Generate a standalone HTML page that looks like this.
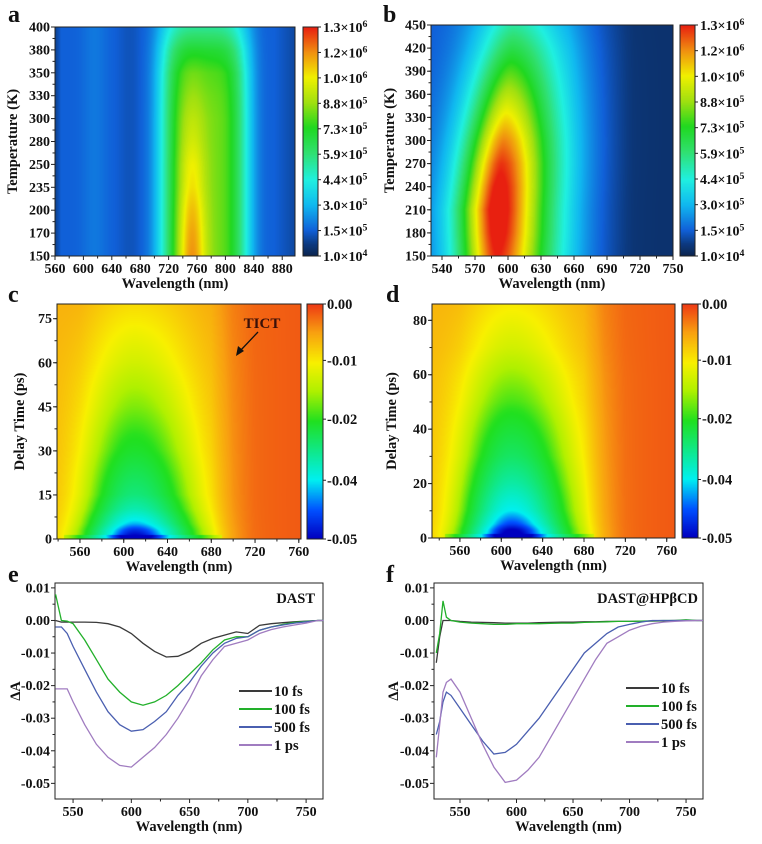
<!DOCTYPE html>
<html><head><meta charset="utf-8">
<style>
html,body{margin:0;padding:0;background:#fff;}
#wrap{position:relative;width:762px;height:844px;overflow:hidden;font-family:"Liberation Serif",serif;}
canvas{position:absolute;}
svg{position:absolute;left:0;top:0;}
</style></head>
<body>
<div id="wrap">
<canvas id="ca"></canvas>
<canvas id="cb"></canvas>
<canvas id="cc"></canvas>
<canvas id="cd"></canvas>
<canvas id="cba"></canvas>
<canvas id="cbb"></canvas>
<canvas id="cbc"></canvas>
<canvas id="cbd"></canvas>
<svg id="svg" width="762" height="844"></svg>
</div>
<script>
// ---------- DATA ----------
const aTempLabels = ["150","170","200","235","250","280","300","330","350","380","400"];
const aBroadAmp  = [0.52,0.52,0.52,0.52,0.52,0.52,0.52,0.51,0.49,0.42,0.30];
const aNarrowAmp = [0.26,0.24,0.21,0.17,0.15,0.11,0.08,0.05,0.03,0.01,0.00];
const aCbLabels = ["1.0×10^4","1.5×10^5","3.0×10^5","4.4×10^5","5.9×10^5","7.3×10^5","8.8×10^5","1.0×10^6","1.2×10^6","1.3×10^6"];
const bTemps   = [150,180,210,240,270,300,330,360,390,420,450];
const bAmp     = [0.90,0.94,0.96,0.93,0.88,0.80,0.70,0.60,0.50,0.40,0.30];
const bCenter  = [590,590,590,592,594,596,598,600,602,604,605];
const cDelays = [0,1,3,5,10,15,30,45,60,75,80];
const cAmp    = [0.044,0.045,0.042,0.037,0.029,0.024,0.017,0.012,0.008,0.005,0.004];
const dDelays = [0,1,3,5,10,20,30,40,50,60,70,86];
const dAmp    = [0.046,0.047,0.045,0.041,0.035,0.028,0.022,0.018,0.014,0.011,0.008,0.005];
const baseWl  = [530,560,600,680,700,720,770];
const baseVal = [-0.006,-0.005,-0.005,-0.005,-0.003,-0.002,-0.0015];
const cdCbLabels = ["0.00","-0.01","-0.02","-0.04","-0.05"];
const eWl = [535,540,545,550,560,570,580,590,600,610,620,630,640,650,660,670,680,690,700,710,720,730,740,750,760,765];
const e10  = [0,-0.0005,-0.0005,-0.0005,-0.0005,-0.0006,-0.001,-0.002,-0.004,-0.007,-0.0095,-0.0112,-0.011,-0.0095,-0.007,-0.0055,-0.0045,-0.0035,-0.004,-0.0015,-0.001,-0.0007,-0.0004,-0.0002,0,0];
const e100 = [0.008,0.0,-0.0002,-0.001,-0.006,-0.012,-0.018,-0.022,-0.025,-0.026,-0.025,-0.023,-0.020,-0.0165,-0.013,-0.009,-0.006,-0.005,-0.005,-0.003,-0.002,-0.0012,-0.0006,-0.0003,0,0];
const e500 = [-0.002,-0.002,-0.004,-0.008,-0.015,-0.022,-0.028,-0.032,-0.034,-0.0335,-0.031,-0.028,-0.023,-0.019,-0.014,-0.010,-0.007,-0.0055,-0.005,-0.003,-0.002,-0.0014,-0.0008,-0.0004,0,0];
const e1ps = [-0.021,-0.021,-0.021,-0.025,-0.032,-0.038,-0.042,-0.0445,-0.045,-0.042,-0.039,-0.035,-0.030,-0.024,-0.017,-0.012,-0.008,-0.007,-0.006,-0.004,-0.0028,-0.002,-0.0014,-0.0008,0,0];
const fWl = [529,532,535,538,542,550,560,570,580,590,600,610,620,630,640,650,660,670,680,690,700,710,720,730,740,750,760,765];
const f10  = [-0.013,-0.005,0,0,0,-0.0003,-0.0005,-0.0006,-0.0007,-0.0008,-0.0008,-0.0008,-0.0007,-0.0006,-0.0005,-0.0005,-0.0004,-0.0004,-0.0003,-0.0003,-0.0003,-0.0002,-0.0002,-0.0001,0,0,0,0];
const f100 = [-0.010,-0.004,0.006,0.001,0,-0.0005,-0.0008,-0.001,-0.0012,-0.0012,-0.001,-0.001,-0.001,-0.0009,-0.0008,-0.0008,-0.0006,-0.0005,-0.0004,-0.0003,-0.0003,-0.0002,-0.0001,0,0,0.0002,0,0];
const f500 = [-0.035,-0.031,-0.025,-0.022,-0.023,-0.027,-0.032,-0.037,-0.041,-0.0405,-0.038,-0.034,-0.030,-0.025,-0.020,-0.015,-0.010,-0.007,-0.004,-0.002,-0.0012,-0.0005,0,0,0,0,0,0];
const f1ps = [-0.042,-0.032,-0.022,-0.019,-0.018,-0.022,-0.030,-0.038,-0.045,-0.0497,-0.049,-0.046,-0.042,-0.036,-0.030,-0.024,-0.018,-0.012,-0.007,-0.005,-0.003,-0.0018,-0.001,-0.0005,-0.0003,-0.0001,0,0];
const legendLabels = ["10 fs","100 fs","500 fs","1 ps"];

// ---------- helpers ----------
const NS="http://www.w3.org/2000/svg";
const svg=document.getElementById('svg');
function mk(tag,attrs,parent){const e=document.createElementNS(NS,tag);for(const k in attrs)e.setAttribute(k,attrs[k]);(parent||svg).appendChild(e);return e;}
function lerpArr(xs,ys,x){if(x<=xs[0])return ys[0];for(let i=1;i<xs.length;i++){if(x<=xs[i]){const t=(x-xs[i-1])/(xs[i]-xs[i-1]);return ys[i-1]+t*(ys[i]-ys[i-1]);}}return ys[ys.length-1];}
function hex(c){return [parseInt(c.slice(1,3),16),parseInt(c.slice(3,5),16),parseInt(c.slice(5,7),16)];}
function cmap(stops,t){t=Math.max(0,Math.min(1,t));for(let i=1;i<stops.length;i++){if(t<=stops[i][0]){const a=stops[i-1],b=stops[i];const u=(t-a[0])/(b[0]-a[0]);const ca=hex(a[1]),cb=hex(b[1]);return [0,1,2].map(k=>Math.round(ca[k]+u*(cb[k]-ca[k])));}}return hex(stops[stops.length-1][1]);}
const jetA=[[0,"#0b2550"],[0.05,"#0c3a80"],[0.11,"#1060d8"],[0.22,"#10b8f0"],[0.33,"#20f0e0"],[0.45,"#30e070"],[0.56,"#20d820"],[0.67,"#a0e010"],[0.78,"#f0f000"],[0.89,"#f09010"],[1,"#e82010"]];
const jetC=[[0,"#0000c0"],[0.12,"#0050ff"],[0.25,"#00f0f0"],[0.5,"#20e020"],[0.63,"#b0f000"],[0.75,"#f8f000"],[0.88,"#f8a010"],[1,"#ee3a14"]];
function cdPos(v){return lerpArr([-0.05,-0.04,-0.02,-0.01,0],[0,0.25,0.51,0.76,1],v);}
function paint(id,x,y,w,h,fn){const c=document.getElementById(id);c.width=w;c.height=h;c.style.left=x+'px';c.style.top=y+'px';const ctx=c.getContext('2d');const im=ctx.createImageData(w,h);for(let j=0;j<h;j++)for(let i=0;i<w;i++){const col=fn(i/(w-1),1-j/(h-1));const o=(j*w+i)*4;im.data[o]=col[0];im.data[o+1]=col[1];im.data[o+2]=col[2];im.data[o+3]=255;}ctx.putImageData(im,0,0);}
function txt(x,y,s,opt){opt=opt||{};const t=mk('text',{x:x,y:y,'font-size':opt.size||14,'font-weight':'bold','text-anchor':opt.anchor||'middle','font-family':'"Liberation Serif",serif',fill:opt.fill||'#111'});if(opt.rot)t.setAttribute('transform','rotate(-90 '+x+' '+y+')');
  const m=s.match(/^(.*)\^(\d+)$/);if(m){t.appendChild(document.createTextNode(m[1]));const sp=mk('tspan',{dy:-5,'font-size':(opt.size||14)*0.7},t);sp.textContent=m[2];}else t.textContent=s;
  if(opt.name){}return t;}
function frame(P,name){const r=mk('rect',{x:P.x0,y:P.y0,width:P.x1-P.x0,height:P.y1-P.y0,fill:'none',stroke:'#222','stroke-width':1});}
function xAxis(P,ticks,minor,fmt){const sx=v=>P.x0+(v-P.xd[0])/(P.xd[1]-P.xd[0])*(P.x1-P.x0);
  ticks.forEach(v=>{const X=sx(v);mk('line',{x1:X,x2:X,y1:P.y1,y2:P.y1+4,stroke:'#222'});txt(X,P.y1+17,fmt?fmt(v):String(v),{name:'x-tick-label'});});
  minor.forEach(v=>{const X=sx(v);if(X>P.x0&&X<P.x1)mk('line',{x1:X,x2:X,y1:P.y1,y2:P.y1+2.5,stroke:'#222'});});
  txt((P.x0+P.x1)/2,P.y1+32,'Wavelength (nm)',{size:14.5,name:'x-axis-title'});}
function yAxisLin(P,ticks,minor,fmt){const sy=v=>P.y1-(v-P.yd[0])/(P.yd[1]-P.yd[0])*(P.y1-P.y0);
  ticks.forEach(v=>{const Y=sy(v);mk('line',{x1:P.x0-4,x2:P.x0,y1:Y,y2:Y,stroke:'#222'});txt(P.x0-5,Y+4.5,fmt?fmt(v):String(v),{anchor:'end',name:'y-tick-label'});});
  minor.forEach(v=>{const Y=sy(v);if(Y>P.y0&&Y<P.y1)mk('line',{x1:P.x0-2.5,x2:P.x0,y1:Y,y2:Y,stroke:'#222'});});}
function range(a,b,s){const r=[];for(let v=a;v<=b+1e-9;v+=s)r.push(+v.toFixed(6));return r;}

// ---------- Panel a ----------
const PA={x0:55,x1:295,y0:27,y1:256,xd:[560,898]};
paint('ca',PA.x0,PA.y0,PA.x1-PA.x0,PA.y1-PA.y0,(u,v)=>{
  const wl=PA.xd[0]+u*(PA.xd[1]-PA.xd[0]);const r=v*(aTempLabels.length-1);
  const idx=aTempLabels.map((_,i)=>i);
  const br=lerpArr(idx,aBroadAmp,r),nr=lerpArr(idx,aNarrowAmp,r);
  let val=0.11+0.03*Math.exp(-Math.pow((wl-615)/18,2))-0.02*Math.exp(-Math.pow((wl-665)/15,2))-0.04*Math.max(0,(wl-870)/30)-0.05*Math.max(0,(568-wl)/8);
  val+=br*Math.exp(-Math.pow((wl-770)/62,4))+nr*Math.exp(-Math.pow((wl-753)/20,2));
  return cmap(jetA,val);});
paint('cba',303,27,15,229,(u,v)=>cmap(jetA,v));
frame(PA,'plot-area-a');mk('rect',{x:303,y:27,width:15,height:229,fill:'none',stroke:'#222'});
xAxis(PA,range(560,880,40),range(580,900,40));
aTempLabels.forEach((s,i)=>{const Y=PA.y1-i*(PA.y1-PA.y0)/(aTempLabels.length-1);mk('line',{x1:PA.x0-4,x2:PA.x0,y1:Y,y2:Y,stroke:'#222'});txt(PA.x0-5,Y+4.5,s,{anchor:'end',name:'y-tick-label'});
  if(i<aTempLabels.length-1){const Y2=Y-(PA.y1-PA.y0)/20;mk('line',{x1:PA.x0-2.5,x2:PA.x0,y1:Y2,y2:Y2,stroke:'#222'});}});
txt(17,(PA.y0+PA.y1)/2,'Temperature (K)',{size:14.5,rot:true,name:'y-axis-title-a'});
aCbLabels.forEach((s,i)=>{const Y=256-i*229/9;mk('line',{x1:318,x2:321,y1:Y,y2:Y,stroke:'#222'});txt(323,Y+5,s,{anchor:'start',name:'colorbar-label'});});
txt(8,22,'a',{size:24,anchor:'start',name:'panel-label-a'});

// ---------- Panel b ----------
const PB={x0:431,x1:673,y0:25,y1:256,xd:[530,750],yd:[150,450]};
paint('cb',PB.x0,PB.y0,PB.x1-PB.x0,PB.y1-PB.y0,(u,v)=>{
  const wl=PB.xd[0]+u*(PB.xd[1]-PB.xd[0]);const T=PB.yd[0]+v*(PB.yd[1]-PB.yd[0]);
  const A=lerpArr(bTemps,bAmp,T),c=lerpArr(bTemps,bCenter,T);const d=wl-c;const w=d<0?36:50;
  let val=0.03+0.07*Math.max(0,Math.min(1,(715-wl)/60))+A*Math.exp(-Math.pow(Math.abs(d/w),1.7));
  return cmap(jetA,val);});
paint('cbb',680,25,15,231,(u,v)=>cmap(jetA,v));
frame(PB,'plot-area-b');mk('rect',{x:680,y:25,width:15,height:231,fill:'none',stroke:'#222'});
xAxis(PB,range(540,750,30),range(555,750,15));
yAxisLin(PB,range(150,450,30),range(165,450,15));
txt(394,(PB.y0+PB.y1)/2,'Temperature (K)',{size:14.5,rot:true,name:'y-axis-title-b'});
aCbLabels.forEach((s,i)=>{const Y=256-i*231/9;mk('line',{x1:695,x2:698,y1:Y,y2:Y,stroke:'#222'});txt(700,Y+5,s,{anchor:'start',name:'colorbar-label'});});
txt(383,22,'b',{size:24,anchor:'start',name:'panel-label-b'});

// ---------- Panel c / d ----------
function tasPanel(cid,cbid,P,delays,amps,cbx,wid){
  paint(cid,P.x0,P.y0,P.x1-P.x0,P.y1-P.y0,(u,v)=>{
    const wl=P.xd[0]+u*(P.xd[1]-P.xd[0]);const t=P.yd[0]+v*(P.yd[1]-P.yd[0]);
    const A=lerpArr(delays,amps,t);const d=wl-610;const w=(d<0?wid[0]:wid[1])*(1+0.15*Math.min(t,60)/60);
    let val=lerpArr(baseWl,baseVal,wl)-A*Math.exp(-Math.pow(d/w,2));
    if(t<1.2&&wl>545&&wl<690)val-=0.004;
    return cmap(jetC,cdPos(val));});
  paint(cbid,cbx,P.y0,16,P.y1-P.y0,(u,v)=>cmap(jetC,v));
  mk('rect',{x:cbx,y:P.y0,width:16,height:P.y1-P.y0,fill:'none',stroke:'#222'});
  const pos=[1,0.76,0.51,0.25,0];
  cdCbLabels.forEach((s,i)=>{const Y=P.y1-pos[i]*(P.y1-P.y0);mk('line',{x1:cbx+16,x2:cbx+19,y1:Y,y2:Y,stroke:'#222'});txt(cbx+20,Y+5,s,{anchor:'start',size:14.5,name:'colorbar-label'});});
}
const PC={x0:57,x1:301,y0:304,y1:539,xd:[539,762],yd:[0,80]};
tasPanel('cc','cbc',PC,cDelays,cAmp,307,[44,52]);
frame(PC,'plot-area-c');
xAxis(PC,range(560,760,40),range(540,760,20));
yAxisLin(PC,range(0,75,15),range(7.5,80,7.5));
txt(24,(PC.y0+PC.y1)/2,'Delay Time (ps)',{size:14.5,rot:true,name:'y-axis-title-c'});
txt(8,302,'c',{size:24,anchor:'start',name:'panel-label-c'});
txt(262,328,'TICT',{size:15,fill:'#3a1008',name:'tict-annotation'});
mk('line',{x1:258,y1:332,x2:240,y2:351,stroke:'#111','stroke-width':1.3});
mk('path',{d:'M236,356 L238,346 L244,351 Z',fill:'#111'});

const PD={x0:432,x1:675,y0:304,y1:538,xd:[533,768],yd:[0,86]};
tasPanel('cd','cbd',PD,dDelays,dAmp,682,[46,54]);
frame(PD,'plot-area-d');
xAxis(PD,range(560,760,40),range(540,760,20));
yAxisLin(PD,range(0,80,20),range(10,86,10));
txt(396,(PD.y0+PD.y1)/2,'Delay Time (ps)',{size:14.5,rot:true,name:'y-axis-title-d'});
txt(386,302,'d',{size:24,anchor:'start',name:'panel-label-d'});

// ---------- Panel e / f ----------
const lineColors=["#3a3a3a","#22b02a","#4a5fb0","#a07cc0"];
function linePanel(P,wl,series,legX,legY,tag){
  frame(P,'plot-area-'+tag);
  const sx=v=>P.x0+(v-P.xd[0])/(P.xd[1]-P.xd[0])*(P.x1-P.x0);
  const sy=v=>P.y1-(v-P.yd[0])/(P.yd[1]-P.yd[0])*(P.y1-P.y0);
  series.forEach((s,k)=>{const d=wl.map((w,i)=>(i?'L':'M')+sx(w).toFixed(1)+','+sy(s[i]).toFixed(1)).join(' ');
    const p=mk('path',{d:d,fill:'none',stroke:lineColors[k],'stroke-width':1.3});
    });
  xAxis(P,range(550,750,50),range(575,765,50));
  yAxisLin(P,[0.01,0,-0.01,-0.02,-0.03,-0.04,-0.05],[0.005,-0.005,-0.015,-0.025,-0.035,-0.045],v=>v.toFixed(2).replace('-0.00','0.00'));
  legendLabels.forEach((s,k)=>{const Y=legY+k*18;const g=mk('g',{});
    mk('line',{x1:legX,x2:legX+33,y1:Y,y2:Y,stroke:lineColors[k],'stroke-width':2},g);txt(legX+35,Y+5,s,{anchor:'start',size:14.5});});
}
const PE={x0:55,x1:323,y0:583,y1:799,xd:[534.5,764.5],yd:[-0.0548,0.0115]};
linePanel(PE,eWl,[e10,e100,e500,e1ps],239,691,'e');
txt(315,603,'DAST',{size:14.5,anchor:'end',name:'sample-label-e'});
txt(20,(PE.y0+PE.y1)/2,'ΔA',{size:14.5,rot:true,name:'y-axis-title-e'});
txt(8,582,'e',{size:24,anchor:'start',name:'panel-label-e'});
const PF={x0:434,x1:703,y0:583,y1:799,xd:[527,765],yd:[-0.0548,0.0115]};
linePanel(PF,fWl,[f10,f100,f500,f1ps],626,688,'f');
txt(698,603,'DAST@HPβCD',{size:14.5,anchor:'end',name:'sample-label-f'});
txt(398,(PF.y0+PF.y1)/2,'ΔA',{size:14.5,rot:true,name:'y-axis-title-f'});
txt(386,582,'f',{size:24,anchor:'start',name:'panel-label-f'});
</script>
</body></html>
